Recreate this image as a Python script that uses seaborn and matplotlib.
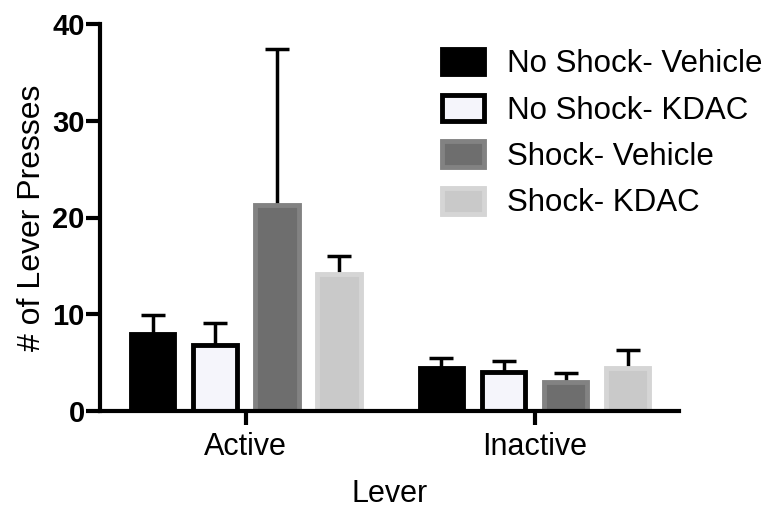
import pandas as pd
import numpy as np
import matplotlib
matplotlib.use("Agg")
import matplotlib.pyplot as plt
import seaborn as sns

# values (mean and upper SEM)
levers = ["Active", "Inactive"]
groups = ["No Shock- Vehicle", "No Shock- KDAC", "Shock- Vehicle", "Shock- KDAC"]
means = {
    "No Shock- Vehicle": [8.0, 4.4],
    "No Shock- KDAC": [6.8, 4.0],
    "Shock- Vehicle": [21.3, 3.0],
    "Shock- KDAC": [14.2, 4.4],
}
sems = {
    "No Shock- Vehicle": [1.9, 1.1],
    "No Shock- KDAC": [2.3, 1.2],
    "Shock- Vehicle": [16.1, 0.9],
    "Shock- KDAC": [1.8, 1.9],
}
fills = ["#000000", "#f4f4fc", "#6e6e6e", "#c9c9c9"]
edges = ["#000000", "#000000", "#828282", "#d5d5d5"]

rows = []
for g in groups:
    for lev, m in zip(levers, means[g]):
        rows.append({"Lever": lev, "Group": g, "Presses": m})
df = pd.DataFrame(rows)

sns.set_style("ticks", {"text.color": "black", "axes.labelcolor": "black",
                        "xtick.color": "black", "ytick.color": "black",
                        "axes.edgecolor": "black"})
plt.rcParams["font.family"] = ["Liberation Sans", "DejaVu Sans"]

fig = plt.figure(figsize=(7.71, 5.08), dpi=100)
ax = fig.add_axes([100 / 771, 97 / 508, 579 / 771, 387 / 508])

sns.barplot(data=df, x="Lever", y="Presses", hue="Group", hue_order=groups,
            order=levers, palette=fills, errorbar=None, width=0.86, gap=0.3,
            ax=ax, zorder=2)

# style each group; error bars sit behind the bars so only the upper half shows
bar_conts = list(ax.containers)
for i, cont in enumerate(bar_conts):
    g = groups[i]
    xs, ys = [], []
    for p in cont.patches:
        p.set_edgecolor(edges[i])
        p.set_linewidth(3.5)
        xs.append(p.get_x() + p.get_width() / 2)
        ys.append(p.get_height())
    ax.errorbar(xs, ys, yerr=sems[g], fmt="none",
                ecolor="black", elinewidth=2.5, capsize=8.5, capthick=2.5,
                zorder=1)

ax.set_ylim(0, 40)
ax.set_xlim(-0.505, 1.5)
ax.set_yticks([0, 10, 20, 30, 40])
for s in ["top", "right"]:
    ax.spines[s].set_visible(False)
for s in ["left", "bottom"]:
    ax.spines[s].set_linewidth(3)
ax.tick_params(axis="y", length=10, width=3, labelsize=21, pad=1)
ax.tick_params(axis="x", length=10, width=3, labelsize=22, pad=5)
for lab in ax.get_yticklabels():
    lab.set_fontweight("bold")

ax.set_xlabel("Lever", fontsize=22, labelpad=12)
ax.set_ylabel("# of Lever Presses", fontsize=23, labelpad=4)

handles = [c.patches[0] for c in bar_conts]
ax.legend(handles=handles, labels=groups, loc="upper left",
          bbox_to_anchor=(429 / 771, 1 - 36 / 508), bbox_transform=fig.transFigure,
          frameon=False, fontsize=22.5, handlelength=1.35, handleheight=0.9,
          labelspacing=0.5, handletextpad=0.76, borderaxespad=0)

fig.savefig("out.png", dpi=100)
